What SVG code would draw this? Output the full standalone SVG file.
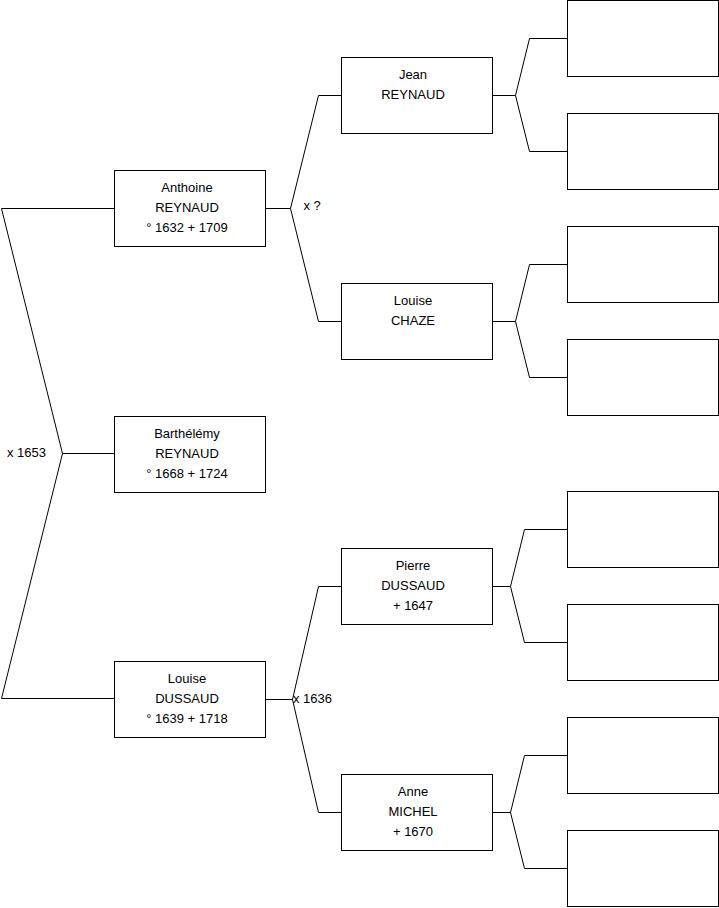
<svg xmlns="http://www.w3.org/2000/svg" width="719" height="908" viewBox="0 0 719 908">
<style>
.box{fill:#fff;stroke:#000;stroke-width:1}
.ln{fill:none;stroke:#000;stroke-width:1}
text{font-family:"Liberation Sans",Arial,sans-serif;font-size:13px;fill:#000}
.c{text-anchor:middle}
</style>
<rect width="719" height="908" fill="#fff"/>
<g id="connectors">
<polyline class="ln" points="114,208.5 1.5,208.5 62.5,453.5 1.5,698.5 114,698.5"/>
<line class="ln" x1="62.5" y1="453.5" x2="114" y2="453.5"/>
<polyline class="ln" points="341,95.5 318.5,95.5 290.5,208.5 318.5,321.5 341,321.5"/>
<line class="ln" x1="265" y1="208.5" x2="290.5" y2="208.5"/>
<polyline class="ln" points="341,586.5 318.5,586.5 292.5,699.5 318.5,812.5 341,812.5"/>
<line class="ln" x1="265" y1="699.5" x2="292.5" y2="699.5"/>
<polyline class="ln" points="567,38.5 529.5,38.5 515.5,95.5 529.5,151.5 567,151.5"/>
<line class="ln" x1="492" y1="95.5" x2="515.5" y2="95.5"/>
<polyline class="ln" points="567,264.5 529.5,264.5 515.5,321.5 529.5,377.5 567,377.5"/>
<line class="ln" x1="492" y1="321.5" x2="515.5" y2="321.5"/>
<polyline class="ln" points="567,529.5 524.5,529.5 510.5,586.5 524.5,642.5 567,642.5"/>
<line class="ln" x1="492" y1="586.5" x2="510.5" y2="586.5"/>
<polyline class="ln" points="567,755.5 524.5,755.5 510.5,812.5 524.5,868.5 567,868.5"/>
<line class="ln" x1="492" y1="812.5" x2="510.5" y2="812.5"/>
<text x="7" y="456.5">x 1653</text>
<text x="303.5" y="210">x ?</text>
<text x="293" y="702.5">x 1636</text>
</g>
<g id="anthoine"><rect class="box" x="114.5" y="170.5" width="151" height="76"/>
<text class="c" x="187" y="192">Anthoine</text><text class="c" x="187" y="212">REYNAUD</text><text class="c" x="187" y="232">° 1632 + 1709</text></g>
<g id="barthelemy"><rect class="box" x="114.5" y="416.5" width="151" height="76"/>
<text class="c" x="187" y="438">Barthélémy</text><text class="c" x="187" y="458">REYNAUD</text><text class="c" x="187" y="478">° 1668 + 1724</text></g>
<g id="louise-dussaud"><rect class="box" x="114.5" y="661.5" width="151" height="76"/>
<text class="c" x="187" y="683">Louise</text><text class="c" x="187" y="703">DUSSAUD</text><text class="c" x="187" y="723">° 1639 + 1718</text></g>
<g id="jean"><rect class="box" x="341.5" y="57.5" width="151" height="76"/>
<text class="c" x="413" y="79">Jean</text><text class="c" x="413" y="99">REYNAUD</text></g>
<g id="louise-chaze"><rect class="box" x="341.5" y="283.5" width="151" height="76"/>
<text class="c" x="413" y="305">Louise</text><text class="c" x="413" y="325">CHAZE</text></g>
<g id="pierre"><rect class="box" x="341.5" y="548.5" width="151" height="76"/>
<text class="c" x="413" y="570">Pierre</text><text class="c" x="413" y="590">DUSSAUD</text><text class="c" x="413" y="610">+ 1647</text></g>
<g id="anne"><rect class="box" x="341.5" y="774.5" width="151" height="76"/>
<text class="c" x="413" y="796">Anne</text><text class="c" x="413" y="816">MICHEL</text><text class="c" x="413" y="836">+ 1670</text></g>
<g id="r1"><rect class="box" x="567.5" y="0.5" width="151" height="76"/></g>
<g id="r2"><rect class="box" x="567.5" y="113.5" width="151" height="76"/></g>
<g id="r3"><rect class="box" x="567.5" y="226.5" width="151" height="76"/></g>
<g id="r4"><rect class="box" x="567.5" y="339.5" width="151" height="76"/></g>
<g id="r5"><rect class="box" x="567.5" y="491.5" width="151" height="76"/></g>
<g id="r6"><rect class="box" x="567.5" y="604.5" width="151" height="76"/></g>
<g id="r7"><rect class="box" x="567.5" y="717.5" width="151" height="76"/></g>
<g id="r8"><rect class="box" x="567.5" y="830.5" width="151" height="76"/></g>
</svg>
